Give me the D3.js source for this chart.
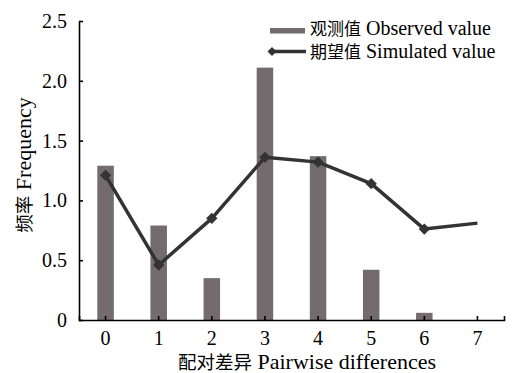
<!DOCTYPE html>
<html><head><meta charset="utf-8">
<script src="https://cdn.jsdelivr.net/npm/d3@7"></script>
<style>
body{margin:0;background:#fff;}
text{font-family:"Liberation Serif","Noto Sans CJK SC",serif;fill:#000;}
.cjk{font-family:"Noto Sans CJK SC",sans-serif;}
</style></head>
<body><svg id="c" width="523" height="373"></svg>
<script>
const categories = ["0","1","2","3","4","5","6","7"];
const observed = [1.29, 0.79, 0.35, 2.11, 1.37, 0.42, 0.06, 0];
const simulated = [1.21, 0.46, 0.85, 1.36, 1.32, 1.14, 0.76, 0.81];
const yTicks = [0, 0.5, 1.0, 1.5, 2.0, 2.5];
const legendLabels = [["观测值", "Observed value"], ["期望值", "Simulated value"]];
const xTitle = ["配对差异", "Pairwise differences"];
const yTitle = ["频率", "Frequency"];

const svg = d3.select("#c");
const barColor = "#736b6e", lineColor = "#333333";
const x = d3.scaleBand().domain(categories).range([79, 504]).padding(0);
const y = d3.scaleLinear().domain([0, 2.5]).range([320, 21]);

// bars
const bw = 16.5;
svg.append("g").selectAll("rect").data(observed).join("rect")
  .attr("x", (d,i) => x(categories[i]) + x.bandwidth()/2 - bw/2)
  .attr("width", bw)
  .attr("y", d => y(d))
  .attr("height", d => y(0) - y(d))
  .attr("fill", barColor);

// axes
const ya = svg.append("g").attr("transform", "translate(79,0)")
  .call(d3.axisLeft(y).tickValues(yTicks).tickSizeInner(-4).tickSizeOuter(0).tickPadding(12)
    .tickFormat(d => d === 0 ? "0" : d.toFixed(1)));
const xa = svg.append("g").attr("transform", "translate(0,320)")
  .call(d3.axisBottom(x).tickSizeInner(-4).tickSizeOuter(-4).tickPadding(11));
[ya, xa].forEach(g => {
  g.selectAll("text").attr("font-size", 20).attr("font-family", "Liberation Serif").attr("fill", "#000");
  g.selectAll("path,line").attr("stroke", "#000").attr("stroke-width", 1.6);
});

// line
const cx = i => x(categories[i]) + x.bandwidth()/2;
const line = d3.line().x((d,i) => cx(i)).y(d => y(d));
svg.append("path").datum(simulated).attr("d", line)
  .attr("fill", "none").attr("stroke", lineColor).attr("stroke-width", 3.5).attr("stroke-linejoin", "round");
svg.append("g").selectAll("path").data(simulated.slice(0, 7)).join("path")
  .attr("d", d3.symbol().type(d3.symbolSquare).size(64))
  .attr("transform", (d,i) => `translate(${cx(i)},${y(d)}) rotate(45)`)
  .attr("fill", lineColor);

function mixed(t, parts, cjkSize, latSize) {
  t.append("tspan").attr("class", "cjk").attr("font-size", cjkSize).text(parts[0]);
  t.append("tspan").attr("font-size", latSize).text(" " + parts[1]);
  return t;
}

// titles
mixed(svg.append("text").attr("x", 307).attr("y", 369).attr("text-anchor", "middle"), xTitle, 18.5, 22);
mixed(svg.append("text").attr("transform", "translate(31,165) rotate(-90)").attr("text-anchor", "middle"), yTitle, 18.5, 22);

// legend
const lg = svg.append("g");
lg.append("rect").attr("x", 270).attr("y", 28).attr("width", 35).attr("height", 5.5).attr("fill", barColor);
mixed(lg.append("text").attr("x", 310).attr("y", 35), legendLabels[0], 17, 20);
lg.append("line").attr("x1", 270).attr("x2", 306).attr("y1", 51.5).attr("y2", 51.5)
  .attr("stroke", lineColor).attr("stroke-width", 3.5);
lg.append("path").attr("d", d3.symbol().type(d3.symbolSquare).size(40))
  .attr("transform", "translate(272,51.5) rotate(45)").attr("fill", lineColor);
mixed(lg.append("text").attr("x", 310).attr("y", 58), legendLabels[1], 17, 20);
</script></body></html>
